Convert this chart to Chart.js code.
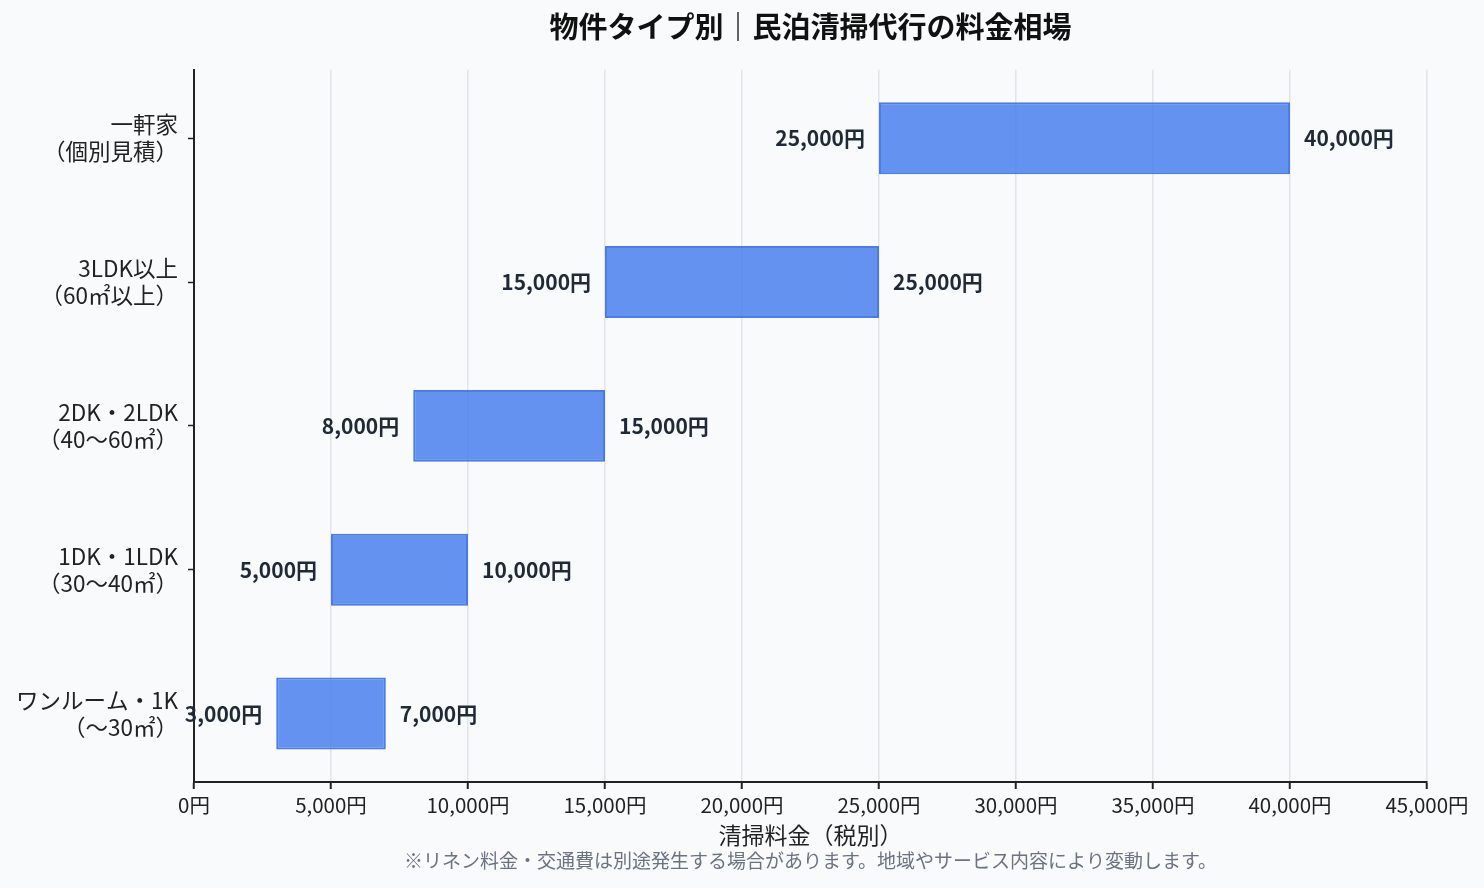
<!DOCTYPE html>
<html lang="ja">
<head>
<meta charset="utf-8">
<title>物件タイプ別｜民泊清掃代行の料金相場</title>
<script src="https://cdn.jsdelivr.net/npm/chart.js@4.4.1/dist/chart.umd.min.js"></script>
<style>
  html, body { margin: 0; padding: 0; background: #f8fafc; }
  #wrap { width: 1484px; height: 888px; }
</style>
</head>
<body>
<div id="wrap"><canvas id="priceChart"></canvas></div>
<script>
// 物件タイプ（上から順）
const categories = [
    ['一軒家', '（個別見積）'],
    ['3LDK以上', '（60㎡以上）'],
    ['2DK・2LDK', '（40〜60㎡）'],
    ['1DK・1LDK', '（30〜40㎡）'],
    ['ワンルーム・1K', '（〜30㎡）']
];
const minPrices = [25000, 15000, 8000, 5000, 3000]; // 下限
const maxPrices = [40000, 25000, 15000, 10000, 7000]; // 上限
const xTicks = [0, 5000, 10000, 15000, 20000, 25000, 30000, 35000, 40000, 45000];

const FONT = "'Noto Sans CJK JP', 'Noto Sans', sans-serif";
const Y_MARGIN = 0.476; // 上下端の余白（カテゴリ幅比）

function yen(v) {
    return Number(v).toLocaleString('en-US') + '円';
}

// バーの左右に金額ラベルを描く
const rangeLabels = {
    id: 'rangeLabels',
    afterDatasetsDraw(chart) {
        const ctx = chart.ctx;
        const meta = chart.getDatasetMeta(0);
        ctx.save();
        ctx.font = 'bold 21px ' + FONT;
        ctx.fillStyle = '#1f2937';
        ctx.textBaseline = 'middle';
        meta.data.forEach(function(bar, i) {
            const left = Math.min(bar.x, bar.base);
            const right = Math.max(bar.x, bar.base);
            ctx.textAlign = 'right';
            ctx.fillText(yen(minPrices[i]), left - 14, bar.y);
            ctx.textAlign = 'left';
            ctx.fillText(yen(maxPrices[i]), right + 14, bar.y);
        });
        ctx.restore();
    }
};

const ctx = document.getElementById('priceChart').getContext('2d');
new Chart(ctx, {
    type: 'bar',
    data: {
        labels: categories,
        datasets: [{
            label: '料金相場',
            data: minPrices.map((v, i) => [v, maxPrices[i]]),
            backgroundColor: 'rgba(62, 120, 236, 0.8)',
            borderColor: 'rgba(55, 110, 228, 0.9)',
            borderWidth: 2,
            borderSkipped: false,
            barPercentage: 0.5,
            categoryPercentage: 1.0
        }]
    },
    options: {
        indexAxis: 'y',
        responsive: true,
        maintainAspectRatio: false,
        animation: false,
        layout: { padding: { left: 6, right: 57, top: 0, bottom: 12 } },
        plugins: {
            legend: { display: false },
            tooltip: { enabled: false },
            title: {
                display: true,
                fullSize: false,
                text: '物件タイプ別｜民泊清掃代行の料金相場',
                color: '#111111',
                font: { family: FONT, size: 29, weight: 'bold' },
                padding: { top: 10, bottom: 25 }
            },
            subtitle: {
                display: true,
                fullSize: false,
                position: 'bottom',
                text: '※リネン料金・交通費は別途発生する場合があります。地域やサービス内容により変動します。',
                color: '#6b7280',
                font: { family: FONT, size: 19 },
                padding: { top: 0, bottom: 4 }
            }
        },
        scales: {
            x: {
                min: 0,
                max: 45000,
                afterBuildTicks: function(axis) {
                    axis.ticks = xTicks.map(v => ({ value: v }));
                },
                ticks: {
                    color: '#222222',
                    font: { family: FONT, size: 20.5 },
                    padding: 4,
                    maxRotation: 0,
                    callback: function(value) { return yen(value); }
                },
                grid: {
                    color: '#e2e4e8',
                    lineWidth: 1.5,
                    tickColor: '#222222',
                    tickLength: 7,
                    tickWidth: 2
                },
                border: { color: '#222222', width: 2 },
                title: {
                    display: true,
                    text: '清掃料金（税別）',
                    color: '#222222',
                    font: { family: FONT, size: 23 },
                    padding: { top: 0, bottom: 0 }
                }
            },
            y: {
                offset: false,
                afterBuildTicks: function(axis) {
                    // 端の余白を半カテゴリより少し狭くする
                    axis._startValue = -Y_MARGIN;
                    axis._valueRange = (categories.length - 1) + 2 * Y_MARGIN;
                },
                ticks: {
                    color: '#222222',
                    font: { family: FONT, size: 22.5, lineHeight: 1.2 },
                    padding: 10
                },
                grid: {
                    offset: false,
                    drawOnChartArea: false,
                    tickColor: '#222222',
                    tickLength: 6,
                    tickWidth: 1.5
                },
                border: { color: '#222222', width: 2 }
            }
        }
    },
    plugins: [rangeLabels]
});
</script>
</body>
</html>
